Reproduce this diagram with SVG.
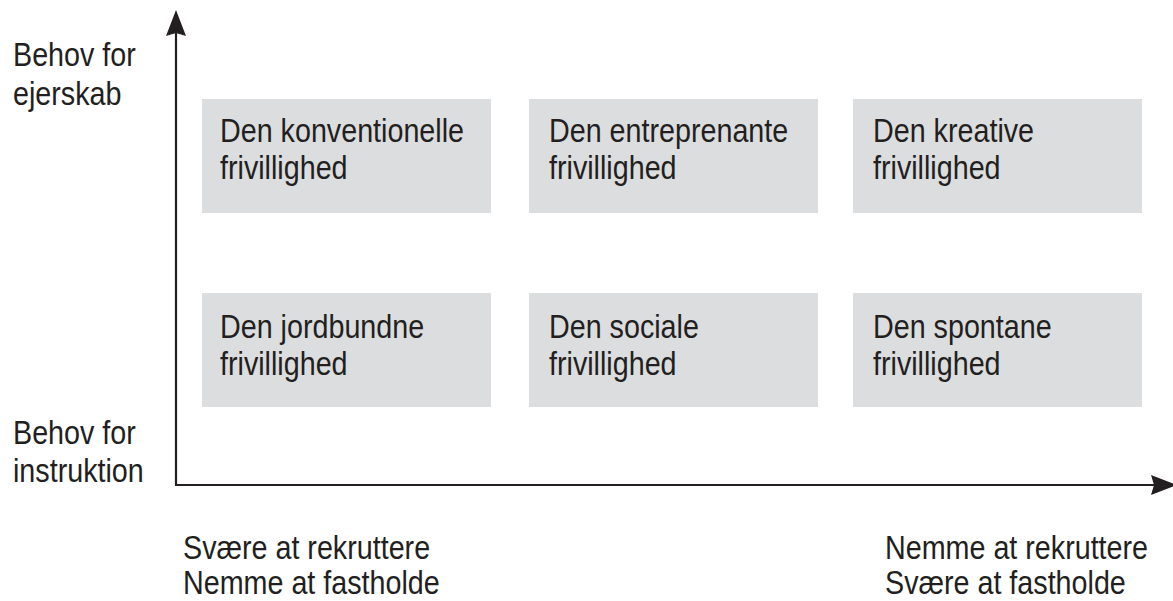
<svg xmlns="http://www.w3.org/2000/svg" width="1173" height="601" viewBox="0 0 1173 601">
  <style>
    .box { fill: #dcdddf; }
    .t { font-family: "Liberation Sans", Arial, sans-serif; font-size: 33px; fill: #231f20; }
    .axis { stroke: #231f20; stroke-width: 2.2; fill: none; }
    .head { fill: #231f20; }
  </style>

  <!-- axes -->
  <g id="connectors">
    <line class="axis" x1="176" y1="486" x2="176" y2="30"/>
    <path class="head" d="M176 10 L186 36 L176 33 L166 36 Z"/>
    <line class="axis" x1="175" y1="485" x2="1155" y2="485"/>
    <path class="head" d="M1177 485 L1151 495 L1154 485 L1151 475 Z"/>
  </g>

  <!-- axis labels -->
  <g id="label-ejerskab">
    <text class="t" transform="translate(13,66) scale(0.87,1)">Behov for</text>
    <text class="t" transform="translate(13,105) scale(0.87,1)">ejerskab</text>
  </g>
  <g id="label-instruktion">
    <text class="t" transform="translate(13,444) scale(0.87,1)">Behov for</text>
    <text class="t" transform="translate(13,482) scale(0.87,1)">instruktion</text>
  </g>
  <g id="label-left">
    <text class="t" transform="translate(183,559) scale(0.87,1)">Svære at rekruttere</text>
    <text class="t" transform="translate(183,594) scale(0.87,1)">Nemme at fastholde</text>
  </g>
  <g id="label-right">
    <text class="t" transform="translate(885,559) scale(0.87,1)">Nemme at rekruttere</text>
    <text class="t" transform="translate(885,594) scale(0.87,1)">Svære at fastholde</text>
  </g>

  <!-- top row -->
  <g id="konventionelle">
    <rect class="box" x="202" y="99" width="289" height="114"/>
    <text class="t" transform="translate(220,142) scale(0.87,1)">Den konventionelle</text>
    <text class="t" transform="translate(220,179) scale(0.87,1)">frivillighed</text>
  </g>
  <g id="entreprenante">
    <rect class="box" x="529" y="99" width="289" height="114"/>
    <text class="t" transform="translate(549,142) scale(0.87,1)">Den entreprenante</text>
    <text class="t" transform="translate(549,179) scale(0.87,1)">frivillighed</text>
  </g>
  <g id="kreative">
    <rect class="box" x="853" y="99" width="289" height="114"/>
    <text class="t" transform="translate(873,142) scale(0.87,1)">Den kreative</text>
    <text class="t" transform="translate(873,179) scale(0.87,1)">frivillighed</text>
  </g>

  <!-- bottom row -->
  <g id="jordbundne">
    <rect class="box" x="202" y="293" width="289" height="114"/>
    <text class="t" transform="translate(220,338) scale(0.87,1)">Den jordbundne</text>
    <text class="t" transform="translate(220,375) scale(0.87,1)">frivillighed</text>
  </g>
  <g id="sociale">
    <rect class="box" x="529" y="293" width="289" height="114"/>
    <text class="t" transform="translate(549,338) scale(0.87,1)">Den sociale</text>
    <text class="t" transform="translate(549,375) scale(0.87,1)">frivillighed</text>
  </g>
  <g id="spontane">
    <rect class="box" x="853" y="293" width="289" height="114"/>
    <text class="t" transform="translate(873,338) scale(0.87,1)">Den spontane</text>
    <text class="t" transform="translate(873,375) scale(0.87,1)">frivillighed</text>
  </g>
</svg>
